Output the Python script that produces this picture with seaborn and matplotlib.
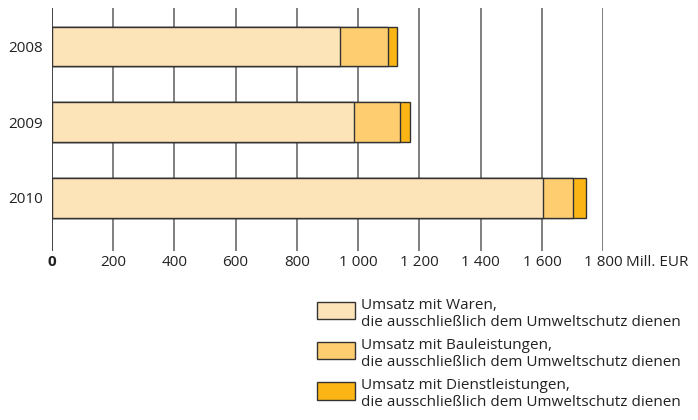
import pandas as pd
import seaborn as sns
import matplotlib.pyplot as plt
from matplotlib.patches import Rectangle

years = ["2008", "2009", "2010"]
waren = [941, 987, 1603]
bau = [156, 151, 98]
dienst = [30, 30, 41]

labels = [
    "Umsatz mit Waren,\ndie ausschließlich dem Umweltschutz dienen",
    "Umsatz mit Bauleistungen,\ndie ausschließlich dem Umweltschutz dienen",
    "Umsatz mit Dienstleistungen,\ndie ausschließlich dem Umweltschutz dienen",
]
colors = ["#fde4b8", "#fecd70", "#fbb616"]
xticks = [0, 200, 400, 600, 800, 1000, 1200, 1400, 1600, 1800]
xticklabels = ["0", "200", "400", "600", "800", "1 000", "1 200", "1 400", "1 600", "1 800"]
unit = "Mill. EUR"

df = pd.DataFrame({"year": years, "waren": waren, "bau": bau, "dienst": dienst})
df["c1"] = df["waren"]
df["c2"] = df["waren"] + df["bau"]
df["c3"] = df["c2"] + df["dienst"]

sns.set_style("white")
plt.rcParams['font.family'] = ['Open Sans', 'DejaVu Sans']
fs = 11
tc = "#222222"

fig = plt.figure(figsize=(6.98, 4.2), dpi=100)
ax = fig.add_axes([51.7 / 698, 1 - 250.7 / 420, (603.3 - 51.7) / 698, (250.7 - 8.3) / 420])

for x in xticks:
    ax.axvline(x, color="#222222" if x == 0 else "#6a6a6a", lw=1.2, zorder=0)

# stacked bars: draw cumulative totals, widest first
for col, c in zip(["c3", "c2", "c1"], colors[::-1]):
    sns.barplot(data=df, x=col, y="year", orient="h", color=c, width=0.52,
                edgecolor="#333333", linewidth=1.0, saturation=1, ax=ax, zorder=2)

ax.set_xlim(0, 1800)
ax.set_ylim(2.698, -0.502)
ax.set_xticks(xticks)
ax.set_xticklabels(xticklabels, fontsize=fs, color=tc)
ax.get_xticklabels()[0].set_fontweight("bold")
ax.tick_params(axis="x", length=0, pad=3)
ax.tick_params(axis="y", length=0, pad=6, labelsize=fs, labelcolor=tc)
ax.set_xlabel("")
ax.set_ylabel("")
for s in ax.spines.values():
    s.set_visible(False)

# unit after the last tick label
ax.annotate(unit, xy=(1800, 0), xycoords=("data", "axes fraction"),
            xytext=(16.5, -3), textcoords="offset points",
            ha="left", va="top", fontsize=fs, color=tc)

# legend drawn in pixel coordinates
for i, (lab, c) in enumerate(zip(labels, colors)):
    y0 = 301.7 + i * 40.3
    fig.add_artist(Rectangle((317.3 / 698, 1 - (y0 + 17.3) / 420), 37.7 / 698, 17.3 / 420,
                             transform=fig.transFigure, facecolor=c,
                             edgecolor="#333333", lw=1.0))
    fig.text(361 / 698, 1 - (y0 - 4) / 420, lab, fontsize=fs, color=tc,
             va="top", ha="left", linespacing=1.2)

fig.savefig("out.png", dpi=100)
